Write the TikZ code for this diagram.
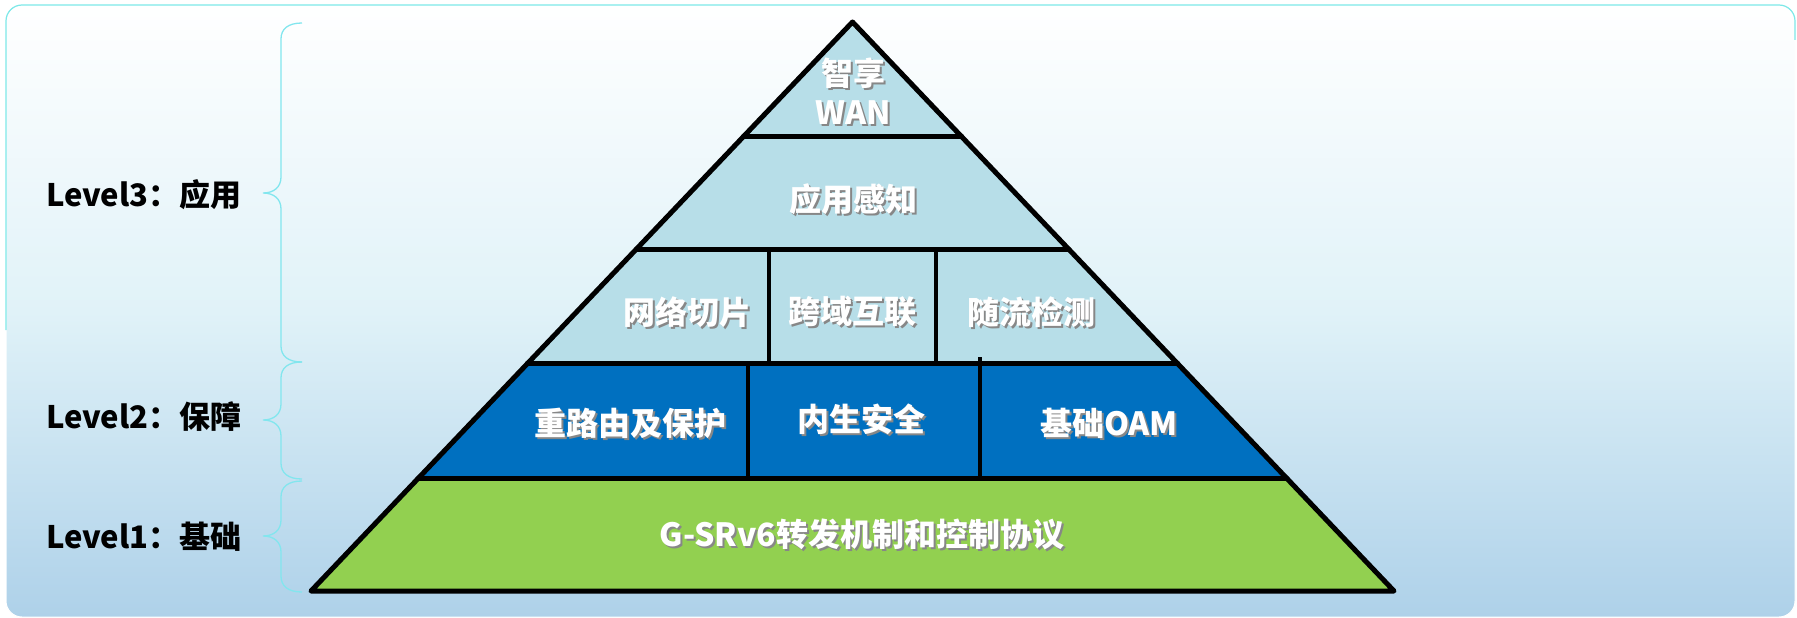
\documentclass[tikz,border=0pt]{standalone}
\usepackage{fontspec}
\newfontfamily\cjk{Noto Sans CJK SC}
\usetikzlibrary{calc}
\definecolor{tierlight}{RGB}{183,222,232}
\definecolor{tierblue}{RGB}{0,112,192}
\definecolor{tiergreen}{RGB}{146,208,80}
\definecolor{bgmid}{RGB}{224,242,248}
\definecolor{bgbot}{RGB}{174,209,233}
\definecolor{framecyan}{RGB}{125,232,232}
\definecolor{bracecyan}{RGB}{130,230,238}
\definecolor{shadowgray}{RGB}{95,95,95}
\newcommand\shd[1]{\leavevmode\rlap{\hspace{2pt}\raisebox{-2pt}{\textcolor{shadowgray!75}{#1}}}#1}
\tikzset{
  pyr/.style={line width=5pt, line join=round, line cap=round, black},
  divline/.style={line width=3.5pt, black},
  tiertext/.style={inner sep=0pt, text=white, font=\cjk\bfseries\fontsize{32}{39}\selectfont, align=center},
  leveltext/.style={inner sep=0pt, anchor=west, text=black, font=\cjk\bfseries\fontsize{31}{36}\selectfont},
  bracestyle/.style={bracecyan, line width=1.3pt}
}
\begin{document}
\begin{tikzpicture}[x=1pt,y=-1pt]
\useasboundingbox (0,0) rectangle (1797,618);
\fill[white] (0,0) rectangle (1797,618);
% background panel
\shade[rounded corners=16pt, top color=white, bottom color=bgbot, middle color=bgmid] (6,5) rectangle (1795,617);
\draw[white, line width=1pt, rounded corners=16pt] (6,5) rectangle (1795,617);
\draw[framecyan, line width=1.2pt, rounded corners=16pt] (6,330) -- (6,5) -- (1795,5) -- (1795,40);
% braces
\draw[bracestyle] (302,23) .. controls (288,23) and (281,29) .. (281,39) -- (281,177) .. controls (281,187) and (274,193) .. (263,193) .. controls (274,193) and (281,199) .. (281,209) -- (281,346) .. controls (281,356) and (288,362) .. (302,362);
\draw[bracestyle] (302,362) .. controls (288,362) and (281,368) .. (281,378) -- (281,404) .. controls (281,414) and (274,420) .. (263,420) .. controls (274,420) and (281,426) .. (281,436) -- (281,463) .. controls (281,473) and (288,479) .. (302,479);
\draw[bracestyle] (302,481) .. controls (288,481) and (281,487) .. (281,497) -- (281,520) .. controls (281,530) and (274,536) .. (263,536) .. controls (274,536) and (281,542) .. (281,552) -- (281,576) .. controls (281,586) and (288,592) .. (302,592);
% pyramid
\coordinate (A) at (852.5,22);
\coordinate (BL) at (311,591);
\coordinate (BR) at (1394,591);
\coordinate (L1) at ($(A)!0.2021!(BL)$);
\coordinate (R1) at ($(A)!0.2021!(BR)$);
\coordinate (L2) at ($(A)!0.399!(BL)$);
\coordinate (R2) at ($(A)!0.399!(BR)$);
\coordinate (L3) at ($(A)!0.601!(BL)$);
\coordinate (R3) at ($(A)!0.601!(BR)$);
\coordinate (L4) at ($(A)!0.803!(BL)$);
\coordinate (R4) at ($(A)!0.803!(BR)$);
\fill[tierlight] (A) -- (R3) -- (L3) -- cycle;
\fill[tierblue] (L3) -- (R3) -- (R4) -- (L4) -- cycle;
\fill[tiergreen] (L4) -- (R4) -- (BR) -- (BL) -- cycle;
\draw[divline] (769,249) -- (769,364);
\draw[divline] (936,249) -- (936,364);
\draw[divline] (748,364) -- (748,479);
\draw[divline] (980,357) -- (980,479);
\draw[pyr] (L1) -- (R1);
\draw[pyr] (L2) -- (R2);
\draw[pyr] (L3) -- (R3);
\draw[pyr] (L4) -- (R4);
\draw[pyr] (A) -- (BR) -- (BL) -- cycle;
% tier texts
\node[tiertext] (wan) at (853,92) {\shd{智享}\\\shd{WAN}};
\node[tiertext] (aware) at (853,200) {\shd{应用感知}};
\node[tiertext] (slice) at (687,313) {\shd{网络切片}};
\node[tiertext] (inter) at (852,313) {\shd{跨域互联}};
\node[tiertext] (ifit) at (1031,313) {\shd{随流检测}};
\node[tiertext] (reroute) at (630,424) {\shd{重路由及保护}};
\node[tiertext] (secure) at (861,420) {\shd{内生安全}};
\node[tiertext] (oam) at (1109,424) {\shd{基础OAM}};
\node[tiertext] (base) at (862,535) {\shd{G-SRv6转发机制和控制协议}};
% level labels
\node[leveltext] (lv3) at (46,195) {Level3：应用};
\node[leveltext] (lv2) at (46,417) {Level2：保障};
\node[leveltext] (lv1) at (46,537) {Level1：基础};
\end{tikzpicture}
\end{document}
